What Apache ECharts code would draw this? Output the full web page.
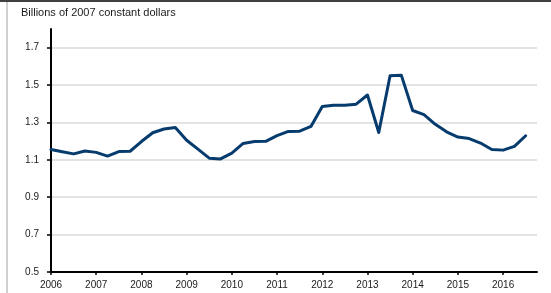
<!DOCTYPE html>
<html>
<head>
<meta charset="utf-8">
<script src="https://cdn.jsdelivr.net/npm/echarts@6/dist/echarts.min.js"></script>
<style>
  html, body { margin: 0; padding: 0; background: #fff; }
  #chart { width: 551px; height: 293px; }
</style>
</head>
<body>
<div id="chart"></div>
<script>
// quarterly values, 2006Q1 .. 2016Q3
var years = [2006, 2007, 2008, 2009, 2010, 2011, 2012, 2013, 2014, 2015, 2016];
var values = [
  1.155, 1.143, 1.132, 1.147,   // 2006
  1.140, 1.120, 1.144, 1.146,   // 2007
  1.198, 1.245, 1.265, 1.273,   // 2008
  1.205, 1.157, 1.109, 1.105,   // 2009
  1.136, 1.188, 1.198, 1.199,   // 2010
  1.230, 1.252, 1.253, 1.279,   // 2011
  1.385, 1.392, 1.392, 1.398,   // 2012
  1.447, 1.246, 1.550, 1.552,   // 2013
  1.364, 1.342, 1.290, 1.250,   // 2014
  1.222, 1.214, 1.190, 1.155,   // 2015
  1.152, 1.172, 1.229           // 2016
];
var yTicks = [0.5, 0.7, 0.9, 1.1, 1.3, 1.5, 1.7];
var unitLabel = 'Billions of 2007 constant dollars';

var categories = [];
for (var i = 0; i < years.length; i++) {
  for (var q = 1; q <= 4; q++) {
    categories.push(years[i] + 'Q' + q);
  }
}

var chart = echarts.init(document.getElementById('chart'), null, { renderer: 'canvas' });

var option = {
  animation: false,
  backgroundColor: '#fff',
  textStyle: { fontFamily: 'Liberation Sans, Arial, sans-serif' },
  graphic: [
    // frame bits of the original
    { type: 'rect', left: 0, top: 0, shape: { width: 551, height: 2 }, style: { fill: '#404040' } },
    { type: 'rect', left: 6, top: 2, shape: { width: 2, height: 291 }, style: { fill: '#d0d0d0' } },
    {
      type: 'text', left: 21, top: 7,
      style: { text: unitLabel, fill: '#1a1a1a', font: '11px "Liberation Sans", Arial, sans-serif' }
    }
  ],
  grid: { left: 51, right: 14, top: 29, bottom: 21 },
  xAxis: {
    type: 'category',
    data: categories,
    boundaryGap: false,
    axisLine: { lineStyle: { color: '#000', width: 2 } },
    axisTick: { interval: 3, length: 3, lineStyle: { color: '#000', width: 1.5 } },
    axisLabel: {
      interval: 3,
      color: '#1a1a1a',
      fontSize: 10,
      margin: 8,
      formatter: function (v) { return v.slice(0, 4); }
    },
    splitLine: { show: false }
  },
  yAxis: {
    type: 'value',
    min: 0.5,
    max: 1.8,
    interval: 0.2,
    axisLine: { show: true, lineStyle: { color: '#000', width: 2 } },
    axisTick: { show: true, length: 4, customValues: yTicks, lineStyle: { color: '#000', width: 1.5 } },
    axisLabel: {
      customValues: yTicks,
      color: '#1a1a1a',
      fontSize: 10,
      margin: 12,
      formatter: function (v) { return v.toFixed(1); }
    },
    splitLine: { show: true, lineStyle: { color: '#dadada', width: 1.5 } }
  },
  series: [{
    type: 'line',
    data: values,
    showSymbol: false,
    smooth: false,
    lineStyle: { color: '#063b6e', width: 3, join: 'round', cap: 'round' },
    itemStyle: { color: '#063b6e' }
  }]
};

chart.setOption(option);
</script>
</body>
</html>
